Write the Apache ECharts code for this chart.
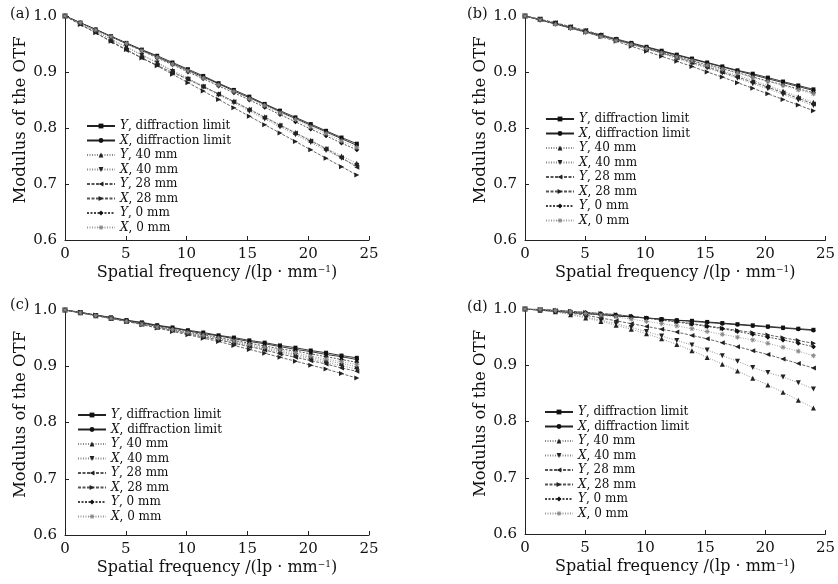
<!DOCTYPE html>
<html>
<head>
<meta charset="utf-8">
<script src="https://cdn.jsdelivr.net/npm/echarts@6/dist/echarts.min.js"></script>
<style>
  html, body { margin: 0; padding: 0; background: #fff; }
  #chart { width: 838px; height: 584px; }
</style>
</head>
<body>
<div id="chart"></div>
<script>
// spatial frequency samples (lp/mm)
const freqs = [0, 1.26, 2.53, 3.79, 5.05, 6.32, 7.58, 8.84, 10.11, 11.37, 12.63, 13.89, 15.16, 16.42, 17.68, 18.95, 20.21, 21.47, 22.74, 24];
const seriesNames = ['Y, diffraction limit', 'X, diffraction limit', 'Y, 40 mm', 'X, 40 mm', 'Y, 28 mm', 'X, 28 mm', 'Y, 0 mm', 'X, 0 mm'];
const panelLabels = ['(a)', '(b)', '(c)', '(d)'];
const xTicks = [0, 5, 10, 15, 20, 25];

// (a)
const aYDiff = [1, .988, .976, .964, .952, .940, .929, .917, .905, .893, .880, .868, .856, .843, .831, .819, .807, .795, .783, .772];
const aXDiff = [1, .988, .976, .963, .951, .939, .927, .915, .903, .891, .879, .866, .854, .842, .829, .817, .805, .793, .781, .769];
const aY40 = [1, .987, .973, .959, .945, .931, .917, .903, .889, .875, .861, .848, .834, .820, .806, .792, .778, .764, .750, .737];
const aX40 = [1, .987, .973, .958, .944, .930, .916, .901, .887, .873, .859, .845, .830, .816, .802, .788, .774, .760, .746, .733];
const aY28 = [1, .985, .970, .954, .939, .925, .912, .899, .887, .874, .861, .847, .833, .819, .805, .791, .777, .763, .747, .730];
const aX28 = [1, .985, .970, .955, .940, .925, .911, .896, .881, .866, .851, .836, .821, .806, .791, .776, .761, .746, .731, .716];
const aY0 = [1, .988, .975, .963, .950, .938, .925, .913, .900, .888, .875, .863, .850, .837, .824, .811, .798, .786, .773, .761];
const aX0 = [1, .988, .975, .963, .951, .938, .926, .914, .902, .889, .877, .865, .852, .840, .827, .815, .802, .790, .777, .765];

// (b)
const bYDiff = [1, .993, .986, .979, .972, .966, .959, .952, .945, .938, .931, .924, .917, .910, .903, .897, .890, .883, .876, .869];
const bXDiff = [1, .993, .986, .979, .972, .965, .958, .951, .944, .937, .930, .923, .916, .909, .902, .895, .888, .881, .874, .867];
const bY40 = [1, .994, .988, .981, .974, .967, .959, .951, .943, .935, .927, .919, .911, .902, .894, .885, .876, .866, .856, .846];
const bX40 = [1, .994, .987, .980, .973, .965, .957, .949, .941, .933, .924, .915, .907, .898, .889, .879, .870, .860, .850, .840];
const bY28 = [1, .994, .988, .981, .974, .966, .958, .950, .942, .934, .926, .917, .909, .900, .891, .882, .873, .863, .853, .843];
const bX28 = [1, .994, .987, .979, .971, .963, .955, .946, .937, .928, .919, .910, .900, .891, .881, .871, .861, .851, .841, .831];
const bY0 = [1, .993, .986, .978, .971, .964, .957, .950, .942, .935, .928, .920, .913, .906, .899, .891, .884, .877, .870, .863];
const bX0 = [1, .993, .985, .978, .971, .963, .956, .949, .942, .934, .927, .920, .912, .905, .898, .890, .883, .876, .868, .861];

// (c)
const cYDiff = [1, .996, .991, .987, .982, .978, .973, .969, .964, .960, .955, .951, .946, .942, .937, .933, .928, .924, .919, .915];
const cXDiff = [1, .995, .991, .986, .981, .977, .972, .968, .963, .958, .954, .949, .944, .940, .935, .930, .926, .921, .917, .912];
const cY40 = [1, .995, .990, .985, .980, .975, .970, .965, .960, .955, .949, .944, .938, .932, .927, .921, .916, .910, .905, .899];
const cX40 = [1, .995, .990, .985, .980, .975, .970, .964, .959, .953, .948, .942, .936, .930, .925, .919, .913, .907, .901, .895];
const cY28 = [1, .995, .990, .985, .980, .975, .969, .964, .958, .952, .947, .941, .935, .929, .922, .916, .910, .904, .897, .891];
const cX28 = [1, .996, .991, .986, .980, .974, .968, .962, .956, .950, .944, .937, .930, .923, .916, .909, .902, .895, .887, .879];
const cY0 = [1, .995, .990, .985, .981, .976, .971, .966, .961, .956, .951, .946, .941, .936, .931, .927, .922, .917, .912, .907];
const cX0 = [1, .995, .990, .985, .980, .975, .970, .965, .960, .955, .950, .945, .939, .934, .929, .924, .918, .913, .908, .903];

// (d)
const dYDiff = [1, .998, .996, .994, .992, .990, .988, .986, .984, .982, .980, .979, .977, .975, .973, .971, .969, .967, .965, .963];
const dXDiff = [1, .998, .996, .994, .992, .990, .988, .986, .984, .982, .980, .978, .976, .974, .972, .970, .968, .966, .964, .962];
const dY40 = [1, .998, .995, .990, .984, .978, .971, .964, .956, .947, .937, .926, .914, .902, .890, .877, .865, .852, .838, .824];
const dX40 = [1, .998, .995, .991, .986, .980, .974, .967, .960, .952, .944, .936, .927, .917, .907, .896, .887, .879, .869, .858];
const dY28 = [1, .999, .997, .993, .989, .984, .979, .974, .969, .964, .959, .953, .947, .940, .933, .926, .919, .911, .903, .895];
const dX28 = [1, .999, .998, .996, .994, .992, .990, .987, .984, .981, .978, .974, .970, .966, .962, .958, .954, .949, .944, .939];
const dY0 = [1, .999, .998, .996, .994, .992, .990, .987, .984, .980, .977, .973, .969, .965, .960, .955, .950, .945, .939, .933];
const dX0 = [1, .999, .997, .995, .992, .989, .986, .982, .978, .974, .970, .965, .960, .955, .950, .945, .939, .932, .925, .917];

const panels = [
  [aYDiff, aXDiff, aY40, aX40, aY28, aX28, aY0, aX0],
  [bYDiff, bXDiff, bY40, bX40, bY28, bX28, bY0, bX0],
  [cYDiff, cXDiff, cY40, cX40, cY28, cX28, cY0, cX0],
  [dYDiff, dXDiff, dY40, dX40, dY28, dX28, dY0, dX0]
];

const FONT = '"DejaVu Serif", "Liberation Serif", serif';
const grids = [
  { left: 65, top: 16, width: 304, height: 224 },
  { left: 525, top: 16, width: 303, height: 224 },
  { left: 65, top: 310, width: 304, height: 225 },
  { left: 525, top: 309, width: 303, height: 225 }
];
const legendPos = [
  { left: 81, top: 114 },
  { left: 540, top: 107 },
  { left: 72, top: 403 },
  { left: 539, top: 400 }
];

const asterisk = 'path://M4,0h2v3.6l2.6-2.6 1.4,1.4-2.6,2.6h3.6v2h-3.6l2.6,2.6-1.4,1.4-2.6-2.6v3.6h-2v-3.6l-2.6,2.6-1.4-1.4 2.6-2.6h-3.6v-2h3.6l-2.6-2.6 1.4-1.4 2.6,2.6z';
const styles = [
  { symbol: 'rect', size: 4, color: '#111', line: 'solid', lineColor: '#222' },
  { symbol: 'circle', size: 4, color: '#111', line: 'solid', lineColor: '#222' },
  { symbol: 'triangle', size: 5, color: '#222', line: [1, 1.5], lineColor: '#888' },
  { symbol: 'path://M0,0L10,0L5,9Z', size: 5, color: '#222', line: [1, 1.5], lineColor: '#888' },
  { symbol: 'path://M0,5L9,0L9,10Z', size: 5, color: '#222', line: [3, 1.5], lineColor: '#555' },
  { symbol: 'path://M0,0L9,5L0,10Z', size: 5, color: '#222', line: [3, 1.5], lineColor: '#555' },
  { symbol: 'diamond', size: 5, color: '#111', line: [2, 1.5], lineColor: '#444' },
  { symbol: asterisk, size: 5, color: '#888', line: [1, 1.5], lineColor: '#999' }
];

const series = [];
panels.forEach((panel, p) => {
  panel.forEach((vals, k) => {
    const s = styles[k];
    series.push({
      name: seriesNames[k],
      type: 'line',
      xAxisIndex: p,
      yAxisIndex: p,
      data: vals.map((v, i) => [freqs[i], v]),
      symbol: s.symbol,
      symbolSize: s.size,
      showAllSymbol: true,
      itemStyle: { color: s.color },
      lineStyle: { color: s.lineColor, width: 0.9, type: s.line },
      emphasis: { disabled: true },
      animation: false
    });
  });
});

const xAxes = grids.map((g, i) => ({
  type: 'value', gridIndex: i, min: 0, max: 25, interval: 5,
  name: 'Spatial frequency /(lp · mm{sup|−1})',
  nameLocation: 'middle', nameGap: 25,
  nameTextStyle: {
    fontFamily: FONT, fontSize: 16, color: '#111',
    rich: { sup: { fontFamily: FONT, fontSize: 9, color: '#111', verticalAlign: 'top', padding: [0, 0, 7, 0] } }
  },
  axisLine: { lineStyle: { color: '#222', width: 1 } },
  axisTick: { inside: true, length: 4, lineStyle: { color: '#222' } },
  axisLabel: { fontFamily: FONT, fontSize: 15, color: '#111', margin: 7,
    customValues: xTicks },
  splitLine: { show: false }
}));

const yAxes = grids.map((g, i) => ({
  type: 'value', gridIndex: i, min: 0.6, max: 1.0, interval: 0.1,
  name: 'Modulus of the OTF',
  nameLocation: 'middle', nameGap: 29,
  nameTextStyle: { fontFamily: FONT, fontSize: 16.5, color: '#111', padding: [0, 0, 0, 16] },
  axisLine: { show: true, lineStyle: { color: '#222', width: 1 } },
  axisTick: { inside: true, length: 4, lineStyle: { color: '#222' } },
  axisLabel: { fontFamily: FONT, fontSize: 15, color: '#111', margin: 8,
    formatter: v => v.toFixed(1) },
  splitLine: { show: false }
}));

const legends = legendPos.map(pos => ({
  left: pos.left, top: pos.top,
  orient: 'vertical',
  data: seriesNames,
  itemWidth: 28, itemHeight: 6, itemGap: 0.5,
  selectedMode: false,
  formatter: name => {
    const parts = name.split(',');
    return '{i|' + parts[0] + '},' + parts.slice(1).join(',');
  },
  textStyle: {
    fontFamily: FONT, fontSize: 12, color: '#111', lineHeight: 14,
    rich: { i: { fontFamily: FONT, fontSize: 12, fontStyle: 'italic', color: '#111', lineHeight: 14 } }
  }
}));

const labelPos = [[10, 7], [467, 7], [10, 298], [467, 300]];
const graphic = panelLabels.map((t, i) => ({
  type: 'text', left: labelPos[i][0], top: labelPos[i][1],
  style: { text: t, font: '14.5px ' + FONT, fill: '#111' }
}));

const chart = echarts.init(document.getElementById('chart'));
chart.setOption({
  backgroundColor: '#fff',
  animation: false,
  grid: grids,
  xAxis: xAxes,
  yAxis: yAxes,
  legend: legends,
  graphic: graphic,
  series: series
});
</script>
</body>
</html>
